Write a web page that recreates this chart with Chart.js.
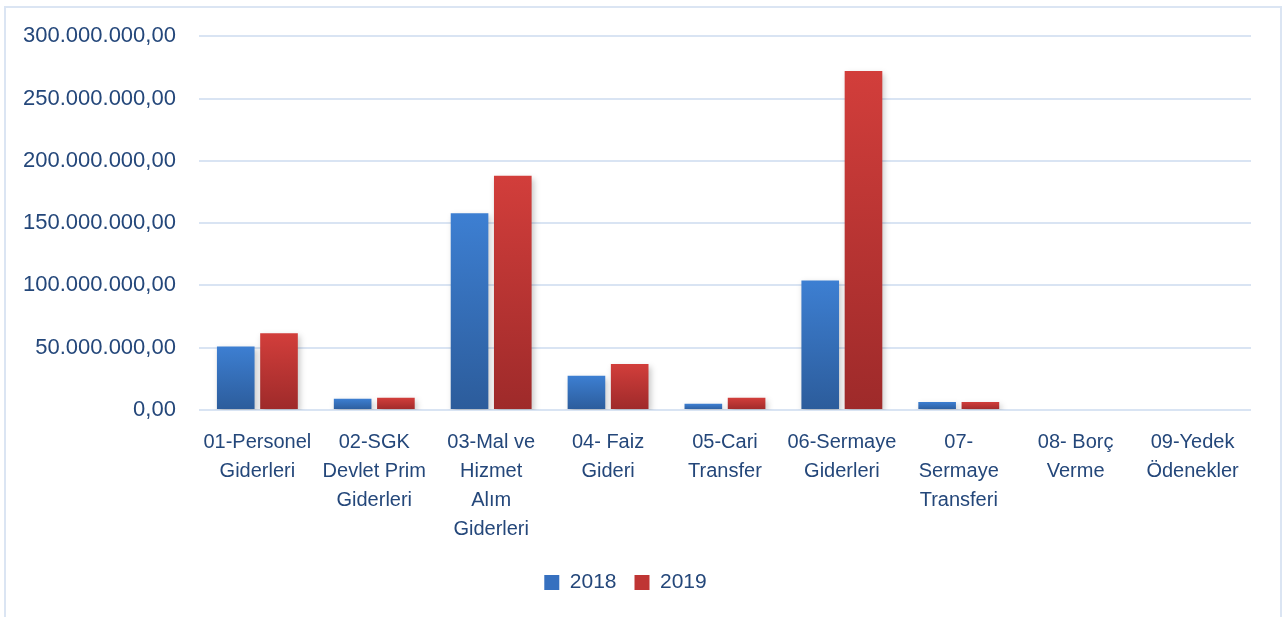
<!DOCTYPE html>
<html>
<head>
<meta charset="utf-8">
<script src="https://cdn.jsdelivr.net/npm/chart.js@4.4.1/dist/chart.umd.min.js"></script>
<style>
  html, body { margin: 0; padding: 0; background: #fff; }
  #frame { position: absolute; left: 4px; top: 6px; width: 1274px; height: 620px; border: 2px solid #dbe5f3; border-bottom: none; }
  #wrap { position: absolute; left: 0; top: 0; width: 1283px; height: 617px; }
</style>
</head>
<body>
<div id="frame"></div>
<div id="wrap"><canvas id="giderChart"></canvas></div>
<script>
const categories = [
  ['01-Personel', 'Giderleri'],
  ['02-SGK', 'Devlet Prim', 'Giderleri'],
  ['03-Mal ve', 'Hizmet', 'Alım', 'Giderleri'],
  ['04- Faiz', 'Gideri'],
  ['05-Cari', 'Transfer'],
  ['06-Sermaye', 'Giderleri'],
  ['07-', 'Sermaye', 'Transferi'],
  ['08- Borç', 'Verme'],
  ['09-Yedek', 'Ödenekler']
];
const values2018 = [51000000, 9000000, 158000000, 27500000, 5000000, 104000000, 6500000, 0, 0];
const values2019 = [61500000, 9800000, 188000000, 37000000, 9800000, 272000000, 6500000, 0, 0];

const textColor = '#24477a';
const gridColor = '#d9e4f3';

// vertical gradient per bar, from the bar top down to the zero line
function barFill(top, bottom) {
  return function(c) {
    const chart = c.chart;
    const ys = chart.scales && chart.scales.y;
    if (!ys || !chart.chartArea || c.raw == null) return top;
    const y0 = ys.getPixelForValue(c.raw);
    const y1 = ys.getPixelForValue(0);
    if (!isFinite(y0) || !isFinite(y1) || y1 - y0 < 1) return top;
    const g = chart.ctx.createLinearGradient(0, y0, 0, y1);
    g.addColorStop(0, top);
    g.addColorStop(1, bottom);
    return g;
  };
}

const barShadow = {
  id: 'barShadow',
  beforeDatasetsDraw(chart) {
    const ctx = chart.ctx;
    ctx.save();
    ctx.shadowColor = 'rgba(0,0,0,0.22)';
    ctx.shadowBlur = 6;
    ctx.shadowOffsetX = 2;
    ctx.shadowOffsetY = 3;
  },
  afterDatasetsDraw(chart) {
    chart.ctx.restore();
  }
};

Chart.defaults.font.family = '"Liberation Sans", Arial, sans-serif';
Chart.defaults.font.size = 21;
Chart.defaults.color = textColor;

const ctx = document.getElementById('giderChart').getContext('2d');
new Chart(ctx, {
  type: 'bar',
  data: {
    labels: categories,
    datasets: [
      { label: '2018', data: values2018, backgroundColor: barFill('#3d7fd2', '#2c5c9b'),
        categoryPercentage: 0.74, barPercentage: 0.87 },
      { label: '2019', data: values2019, backgroundColor: barFill('#d23e3b', '#9e2a2a'),
        categoryPercentage: 0.74, barPercentage: 0.87 }
    ]
  },
  options: {
    responsive: true,
    maintainAspectRatio: false,
    animation: false,
    layout: { padding: { left: 0, right: 32, top: 31, bottom: 14 } },
    plugins: {
      legend: {
        position: 'bottom',
        labels: {
          boxWidth: 15, boxHeight: 15, padding: 18,
          color: textColor,
          generateLabels(chart) {
            return [
              { text: '2018', fillStyle: '#3670bf', strokeStyle: '#3670bf', lineWidth: 0, datasetIndex: 0, fontColor: textColor },
              { text: '2019', fillStyle: '#bf3534', strokeStyle: '#bf3534', lineWidth: 0, datasetIndex: 1, fontColor: textColor }
            ];
          }
        }
      },
      tooltip: { enabled: false }
    },
    scales: {
      x: {
        grid: { display: false, drawTicks: false },
        border: { display: false },
        afterFit: s => { s.height = 144; },
        ticks: { padding: 18, maxRotation: 0, autoSkip: false, font: { size: 20, lineHeight: 1.45 } }
      },
      y: {
        min: 0, max: 300000000,
        grid: { color: gridColor, lineWidth: 2, drawTicks: false },
        border: { display: false },
        ticks: {
          stepSize: 50000000, padding: 23, font: { size: 22 },
          callback: v => v.toLocaleString('de-DE', { minimumFractionDigits: 2, maximumFractionDigits: 2 })
        }
      }
    }
  },
  plugins: [barShadow]
});
</script>
</body>
</html>
